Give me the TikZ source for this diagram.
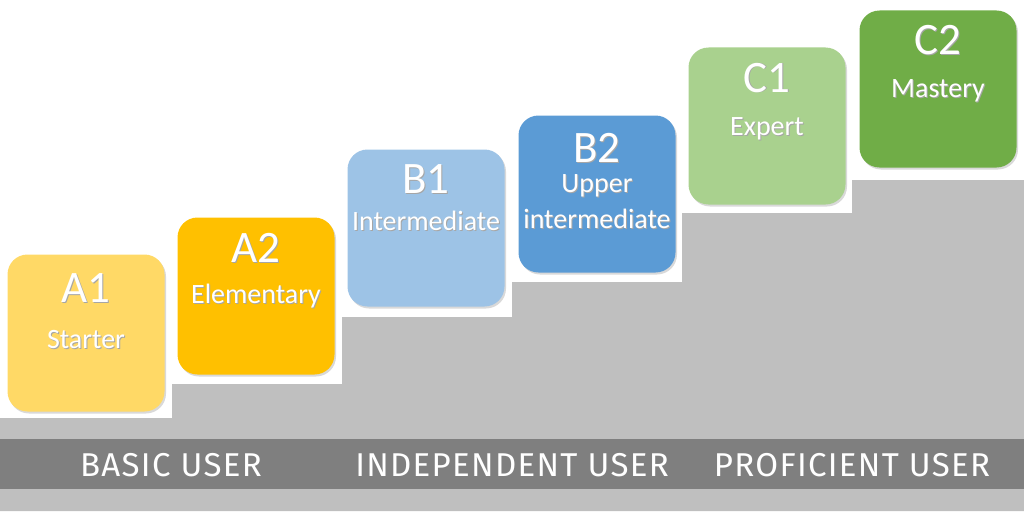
\documentclass[tikz,border=0pt]{standalone}
\usepackage{fontspec}
\setmainfont{Carlito}
\newfontfamily\bandfont[LetterSpace=4]{Fira Sans}
\usetikzlibrary{positioning,shadows,calc}
\definecolor{stair}{HTML}{BFBFBF}
\definecolor{band}{HTML}{7F7F7F}
\definecolor{aone}{HTML}{FFD966}
\definecolor{atwo}{HTML}{FFC000}
\definecolor{bone}{HTML}{9DC3E6}
\definecolor{btwo}{HTML}{5B9BD5}
\definecolor{cone}{HTML}{A9D18E}
\definecolor{ctwo}{HTML}{70AD47}
\newcommand{\shd}[1]{\makebox[0pt][l]{\kern1pt\raisebox{-1pt}{\textcolor{black!35}{#1}}}#1}
\tikzset{
  lvl/.style={rounded corners=20pt, minimum width=157pt, minimum height=157pt, inner sep=0pt,
    drop shadow={shadow xshift=1.5pt, shadow yshift=-2pt, opacity=.3}},
  code/.style={anchor=base, text=white, inner sep=0pt, font=\fontsize{45}{45}\selectfont},
  desc/.style={anchor=base, text=white, inner sep=0pt, font=\fontsize{28}{28}\selectfont},
  grp/.style={text=white, inner sep=0pt, font=\bandfont\fontsize{33}{33}\selectfont}
}
\begin{document}
\begin{tikzpicture}[x=1pt, y=-1pt]
\useasboundingbox (0,0) rectangle (1024,511);
% staircase and user band
\fill[stair] (0,511) -- (0,418) -- (172,418) -- (172,384) -- (342,384) -- (342,317) -- (512,317)
  -- (512,282) -- (682,282) -- (682,213) -- (852,213) -- (852,180) -- (1024,180) -- (1024,511) -- cycle;
\fill[band] (0,439) rectangle (1024,489);
\node[grp] (basic) at (171,465) {BASIC USER};
\node[grp] (indep) at (512,465) {INDEPENDENT USER};
\node[grp] (prof) at (852,465) {PROFICIENT USER};
% level boxes
\node[lvl, fill=aone] (a1) at (86,333) {};
\node[lvl, fill=atwo] (a2) at (256,296) {};
\node[lvl, fill=bone] (b1) at (426,228) {};
\node[lvl, fill=btwo] (b2) at (597,194) {};
\node[lvl, fill=cone] (c1) at (767,126) {};
\node[lvl, fill=ctwo] (c2) at (938,89) {};
\node[code] (a1c) at ([yshift=31pt]a1.center) {\shd{A1}};
\node[desc] (a1d) at ([yshift=-15pt]a1.center) {\shd{Starter}};
\node[code] (a2c) at ([yshift=34pt]a2.center) {\shd{A2}};
\node[desc] (a2d) at ([yshift=-7pt]a2.center) {\shd{Elementary}};
\node[code] (b1c) at ([yshift=35pt]b1.center) {\shd{B1}};
\node[desc] (b1d) at ([yshift=-2pt]b1.center) {\shd{Intermediate}};
\node[code] (b2c) at ([yshift=32pt]b2.center) {\shd{B2}};
\node[desc] (b2d) at ([yshift=2pt]b2.center) {\shd{Upper}};
\node[desc] (b2e) at ([yshift=-34pt]b2.center) {\shd{intermediate}};
\node[code] (c1c) at ([yshift=34pt]c1.center) {\shd{C1}};
\node[desc] (c1d) at ([yshift=-9pt]c1.center) {\shd{Expert}};
\node[code] (c2c) at ([yshift=34pt]c2.center) {\shd{C2}};
\node[desc] (c2d) at ([yshift=-8pt]c2.center) {\shd{Mastery}};
\end{tikzpicture}
\end{document}
